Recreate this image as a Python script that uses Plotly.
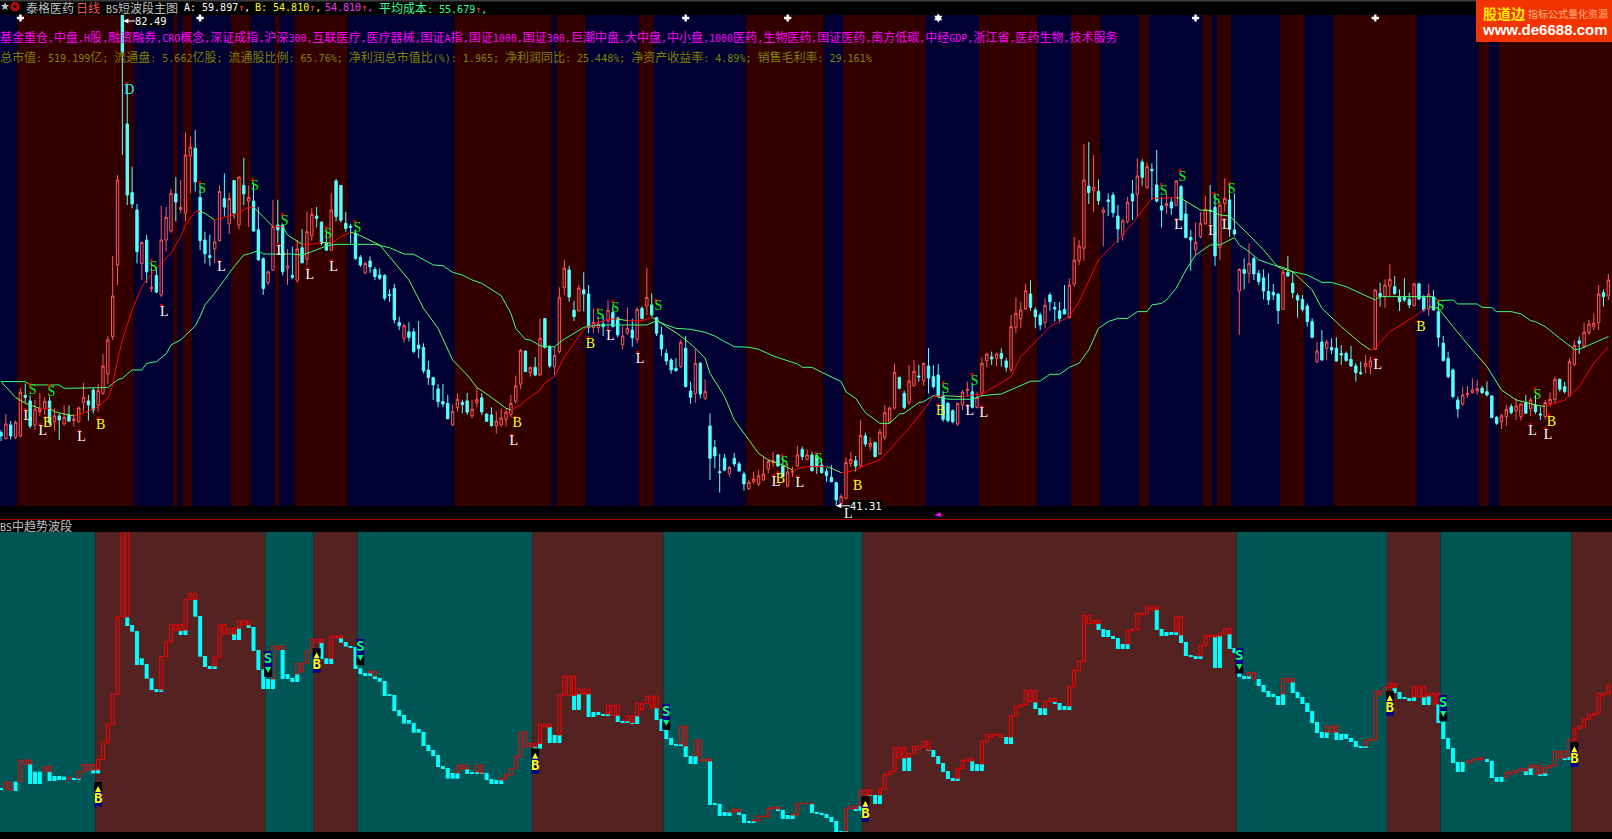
import re
import plotly.graph_objects as go

N = None
NAVY, MAROON = "#000033", "#330000"
TEAL, RUST = "#005555", "#552222"
W, H = 1612, 839

# ---------- upper panel: daily candles (price, yuan) ----------
candle_dir = ("CRCRRCCRRR" "CRCRCRRRCC" "RRRRRCCCCR" "CRCRRRCRRR" "CCCCRRCRCR"
              "CRCCCRRCCR" "CRCRRCCCRC" "CCCCCRCCCC" "CCCRCCCCCC" "CCCRRCCRRC"
              "CCRRRRRRCR" "C"
              "RCCRRRCCRC" "CRRCRCCRRC" "RCRCCCCCCR" "CCRCRCCCCR" "CCCRRRRRRC"
              "CRRRCRCCCC" "CCRRRCRCRC" "RRRRCCRRCR" "CCCCCCRRRC" "RRRCRCCRRR"
              "RCCCRCCCCR" "RR"
              "RCRCRCCCRR" "CRCRCCCRCR" "CCCRRRCCRR" "CCRCRCCCCC" "CRCCCCCCRC"
              "RCCCCCCCRR" "RCRRCCCCRC" "CRCCCCCCRR" "RRCCCCRRCR" "RCRCCRRRCC"
              "RRCRRRRCR")

body_top = [
 47.7,48.42,48.34,48.56,51.06,50.8,50.34,49.67,49.67,50.28,
 50.34,49.09,49.09,48.98,49.17,48.84,49.75,50.64,50.34,51.25,
 51.2,53.25,55.42,59.09,68.75,82.49,73.42,67.7,66.25,63.55,
 63.75,59.8,60.8,63.75,65.64,67.64,67.59,66.47,70.84,71.5,
 71.4,67.3,63.75,62.45,63.6,67.8,67.2,67.2,68.7,69,
 68.3,67.3,67,64.6,62.2,61.1,64.85,65,65,61.6,
 60.8,63,63.1,64.45,65.9,65.75,65.25,63.47,66.25,68.67,
 68.3,65.14,64.9,64.3,62.3,61.8,62,61.3,60.84,60.8,
 59.2,59.7,56.87,56.6,56.1,56.1,55,54.8,52.92,52.28,
 51.34,50.28,50.14,49.45,50.47,50.22,50.34,49.64,50.47,50.6,
 49.25,49.17,48.64,48.92,49.42,50.14,51.6,54.53,54.5,53.14,
 53.14,
 55.56,57.2,54.86,54.14,58.97,61.4,61.25,57.9,59.75,59.6,
 59.25,56.9,56.75,56.75,57.9,57.7,57.25,55.75,56.4,56.25,
 57.97,58.06,58.97,58.34,57.28,55.84,54.3,53.75,53.06,55.23,
 54.73,51.17,53.47,53.47,51.14,48.25,46.47,44.45,45.56,44.8,
 45.56,45.09,44.25,43.56,43.84,44.1,44.25,45.3,45.34,45.84,
 44.92,44.42,44.47,45.84,46.3,45.84,45.84,45.78,45,44.45,
 43.97,43.53,42.36,45.2,45.47,45.36,47.47,47.42,46.8,46.86,
 47.75,49.36,49.75,52.72,52.3,50.97,52,52.8,52.42,53.47,
 53.25,52.36,52.5,50.7,50.14,49.53,50.14,51.06,51.3,51.1,
 50.64,53.47,54.25,54,54.25,54.3,53.67,56.53,57.64,57.92,
 59.53,59.25,57.92,57.5,58.3,59.17,58.14,57.84,57.97,60,
 62.08,63.25,
 68.75,68.25,68.14,67.78,66.25,67.09,67.5,65.75,65.34,66.9,
 67.59,69.09,70.25,69.86,69.64,68.34,66.59,66.78,66.92,68.67,
 68.2,65.92,63.97,63.56,65.14,66.3,66.25,66.47,66.67,67.22,
 67.09,64.59,61.3,61.3,61.8,62.2,60.97,60.59,59.47,59.39,
 59.25,61.06,61.06,60.14,59.11,58.8,58.25,56.95,54.5,55.25,
 55.25,54.8,54.72,54.3,54.3,53.8,53.25,52.7,53.47,53.67,
 59.59,59.3,60,60.47,59.86,58.97,58.97,58.8,60.09,60.09,
 59,59.25,59,57.78,55.14,53.89,52.92,50.42,50.84,50.97,
 51.25,51.36,51.39,51.11,50.75,48.97,49.09,49.64,49.86,49.92,
 50.09,50.2,50.42,50,49.25,50.2,50.47,52.14,52.14,51.53,
 53.61,54.97,55.34,56.06,56.75,56.81,59.25,59.36,60.42]

body_bot = [
 47.42,47.2,47.42,47.31,47.42,50.64,48.25,48.34,49.45,49.72,
 48.53,48.62,48.75,48.42,48.67,48.7,48.62,50.2,50,49.59,
 50,50.98,52.59,55.7,61.67,79.4,67.5,66.75,62.78,61.8,
 61.1,59.7,59.42,59.17,63.75,64.5,66.92,66.3,65.97,70.75,
 68.6,63.7,62.6,62.3,63,63.7,66.5,65.1,66,65,
 67.6,67,64.5,62.1,59.7,60.2,61.25,64.6,61.1,61.4,
 60.64,60.4,61.85,62.15,64.1,65.55,63.47,62.9,62.9,65.7,
 65.4,64.72,64.8,62.2,61.67,61,61.5,60.7,60.56,58.9,
 59.15,57.1,56.6,55.56,55.64,54.45,54.7,52.84,52.28,51.67,
 50.28,50.09,48.86,48.34,49.78,50.03,49.4,49.09,50.2,49.42,
 48.64,48.28,48.28,48.34,48.8,49.22,50.3,51.75,52.78,52.7,
 52.5,
 52.5,54.8,53.25,53.2,54.45,59.8,59,57.36,57.84,59.25,
 56.47,56.47,56.47,56.53,57,56.53,55.84,55,56,55.6,
 55.47,57.2,58.25,57.5,55.97,54.67,53.67,52.92,52.86,53.2,
 51.53,50.64,50.97,50.92,50.56,45.56,45.75,44.36,44.58,44.3,
 45.09,44.5,43.42,43.03,43.6,43.4,43.75,44.67,45.2,44.92,
 44.03,43.25,44.4,44.92,45.7,45.47,44.53,44.86,44.36,44.1,
 43.6,42.09,41.8,42.22,45.14,44.92,44.92,46.75,46.53,45.7,
 45.92,47.3,48.53,49.75,51.39,49.8,50.2,51.6,52.34,52,
 52.25,51.53,50.7,48.8,48.7,48.6,48.42,50,51.2,49.8,
 49.8,50.97,53.7,53.84,53.89,53.89,53.14,52.92,56.47,57.2,
 58,58.14,57.36,56.67,56.86,58.6,58,57.2,57.58,57.28,
 60.08,62.03,
 63.06,67.7,67.86,67.03,66.03,66.95,66.03,64.67,64.17,65.28,
 67,67.56,68.97,68.14,69.53,67,66.25,66.59,66.42,66.64,
 65.42,63.95,63.75,62.92,64.03,65.14,66.17,62.42,63.14,66.8,
 64.64,64.25,59.5,60.97,60.97,60.92,60.28,59.5,58.75,59.17,
 57.86,57.97,60.75,59.36,58.75,57.97,56.95,55.64,53.59,53.75,
 54.72,54.59,53.67,54.17,53.7,53.25,52.7,52.62,53.2,53.2,
 54.64,59.03,59.03,59.92,59.3,58.61,58.75,58.34,58.28,58.84,
 57.92,58,57.92,55.64,53.7,52.36,50.7,49.67,50.09,50.84,
 51.03,51.17,51.03,50.84,48.95,48.47,48.61,49.03,49.36,49.53,
 49.03,49.31,49.7,49.45,49.17,49.03,50.14,50.47,51.31,51.11,
 50.78,53.39,55.14,54.86,56.03,56.53,56.86,59.03,59.09]

high = [
 47.92,49.25,48.67,48.7,51.4,51.8,50.8,50.42,51,50.64,
 50.7,49.75,49.3,50,49.98,49.25,49.86,51.84,50.84,51.4,
 51.75,54.25,55.75,62.42,69.17,82.49,76.8,69.86,66.75,63.6,
 64.2,61.8,61.5,66.6,66.5,68,69,68.75,72.7,72.36,
 72.9,68.2,64.45,64.2,65.4,68.3,69.3,67.7,68.75,69,
 70.6,68.3,68.5,66.5,62.3,61.2,67.1,67.1,65,63,
 63.2,63.75,64.67,66.1,66.4,66.5,65.25,64.6,67.64,68.84,
 68.3,66.1,65.1,64.6,62.5,61.95,62.4,61.5,61.4,60.9,
 59.64,60.1,57.36,56.8,56.9,56.4,57,55.14,53.67,52.36,
 51.75,51.75,50.84,50,50.97,50.42,51,50.42,51.47,50.97,
 49.3,49.8,49.45,49.72,49.64,50.84,52.45,54.67,54.5,53.14,
 54,
 57.2,57.2,55,54.86,59.8,62.1,61.6,58.67,60,61.06,
 60,58.06,57.4,57.5,58.75,58.2,57.36,56.53,58.14,57.2,
 58.14,58.2,61.4,59.3,57.36,56.53,54.64,53.9,53.9,55.47,
 55.75,51.95,54.64,53.6,52.14,49.3,47.09,45.92,45.92,44.92,
 46,45.28,44.45,43.75,44.45,44.58,45.7,45.47,46.1,45.92,
 45.7,45.14,44.86,46.6,46.53,46.3,46.1,46,45.56,44.72,
 45,43.6,42.6,45.64,46.1,45.75,48.75,47.7,47.3,46.95,
 48,50,49.86,53.47,52.36,51.2,53.34,53.75,53.34,53.53,
 54.75,53.34,53.4,51.1,50.28,49.64,50.2,51.25,51.95,51.8,
 51.1,53.97,54.36,54.45,54.36,54.72,53.9,57.5,58.97,58.6,
 60.1,60.4,58.14,57.7,58.9,59.36,58.6,58.6,60,60.56,
 64,63.75,
 71.75,71.92,70.84,68.8,66.47,67.64,67.73,66.67,65.56,67.36,
 68.75,70.56,70.47,70.2,70.14,71.25,67.36,67.59,67.22,68.75,
 68.34,66.95,64.59,65.22,66.1,67.42,68.34,67.64,67,68.9,
 68.53,67.64,61.39,62.22,63.47,62.36,61.25,61.3,60.97,60.09,
 59.3,61.25,62.42,61.1,59.3,59.17,58.47,57.22,55.28,56.25,
 55.42,55.56,55.64,55,54.45,54.92,53.47,53.62,54.17,54.03,
 59.64,60.2,60.47,61.72,60.75,59.64,60.56,59.36,60.2,60.2,
 59.17,60.06,59.59,58.6,55.75,54.45,53.06,50.7,51.53,51.59,
 52.22,52.09,51.59,51.95,50.84,49.09,49.25,50,50.09,50.55,
 50.14,50.84,50.61,50.84,49.86,50.42,51.03,52.36,52.22,51.95,
 53.89,55.36,55.7,56.86,57.09,57.64,60,59.64,60.92]

low = [
 47,47.14,47.14,47.14,47.31,50.2,48.06,47.92,49.09,49.17,
 48.34,47.86,47.09,48.28,48.56,48.2,48.53,49.45,48.7,49.3,
 49.45,50.84,51.75,55.42,60,70.83,66.66,66.4,61.8,60.4,
 60.2,59.4,59.3,59,62.8,64.36,65.3,66,65.3,67.64,
 67.8,62.9,61.8,61.6,61.8,63.6,65.7,64.25,65.55,64.65,
 66.65,64.85,64.45,62,59.17,60,61.2,63.25,60.8,60,
 60.5,60.2,61.8,61.67,63.7,64.8,63.3,62.87,62.87,65.3,
 65.2,64.45,63.47,62.1,61.5,60.9,61,60.4,60.4,58.7,
 58.6,56.8,56.25,55.2,55.3,54.3,53.9,52.64,51.67,50.42,
 49.8,49.8,48.8,48.28,49.45,49.3,49.17,48.9,49.8,49.17,
 48.6,48.2,47.6,48.2,48.2,48.97,50.14,51.34,52.78,52.36,
 52.42,
 52.4,54.7,53.06,52.5,54.3,59.17,58.6,57,57.8,57.8,
 56,56,56,55.75,56.25,56.47,55.64,54.64,55.84,54.86,
 55.14,57.14,57.5,57.36,55.75,54.1,53.34,52.6,52.78,53.06,
 51.47,50.1,50.2,50.56,50.42,43.75,44.72,42.7,44.53,44.03,
 44.86,44.45,42.86,42.92,43.42,43.25,43.7,44.3,44.86,44.86,
 44,43.14,44,44.86,45.42,45.42,44.45,44.25,44.3,43.6,
 43.56,41.31,41.67,42.14,44.86,44.45,44.86,46.53,46.2,45.64,
 45.84,47.09,48.47,49.64,51.3,49.64,50,51.53,51.95,51.6,
 50.97,51.39,50.56,48.6,48.53,48.47,48.25,49.58,50.7,49.7,
 49.7,50.7,53.14,53.34,53.25,53.2,52.78,52.78,56,56.4,
 57.92,57.86,56.4,56.25,56.4,57.86,56.95,56.86,57.58,57.2,
 59.83,61.67,
 62.03,66.75,66.1,66.67,63.2,65.75,65.64,63.53,63.7,65.14,
 65.42,65.64,68.28,67.97,67.09,66.86,64.78,65.9,65.84,66.59,
 65.36,63.9,61.2,62.47,63.9,65,65,61.59,62.1,66.1,
 64,64.09,55.84,59.64,60.14,60.42,60,58.8,58.34,58.75,
 56.75,57.92,60.7,58.9,57.28,57.78,56.53,55.56,53.53,53.7,
 53.75,54.25,53.62,53.34,53.62,53.2,51.95,52.5,52.64,52.56,
 54.59,58.2,58.11,59.09,59.17,57.84,58.61,58.06,58.2,58.75,
 57.78,57.42,57.86,54.86,53.62,52.22,50.56,48.95,49.92,50.56,
 50.97,50.84,50.92,50.7,48.89,48.34,48,48.25,49.22,48.75,
 48.7,49.25,49.09,49.25,48.75,48.81,49.86,50.14,51.11,50.97,
 50.7,53.25,54.25,54.72,55.84,56.25,56.25,58.2,58.75]

# fast average (bar index, price)
fast_idx = [0,3,5,8,10,11,13,15,18,20,22,23,24,25,27,29,30,32,35,37,38,40,41,42,44,46,48,51,52,54,56,58,59,62,64,66,68,70,72,73,78,80,84,
            87,90,93,96,98,101,104,105,107,109,111,112,114,116,118,120,122,125,127,129,132,134,135,137,139,141,143,145,146,149,151,154,156,158,161,163,166,170,171,173,175,178,181,183,185,187,190,192,194,198,202,205,208,210,213,216,220,222,
            226,229,231,234,237,242,243,247,249,251,253,257,260,263,266,270,272,276,280,282,283,286,291,294,296,299,303,306,309,312,316,318,322,325,328,331]
fast_val = [51.95,50.64,50.14,49.72,49.72,49.45,49.25,49.09,49.45,49.86,50.56,51.67,53.75,55.42,57.92,59.86,60.42,61.39,62.64,64.03,65,66.11,66.14,65.97,65.42,65.64,65.83,66.47,66.47,65.7,64.86,64.86,64.17,63.39,63.39,63.56,63.47,64.03,64.39,64.31,63.33,62.36,60.42,
            58.06,56.39,53.75,52.5,51.47,50.64,49.72,49.59,50,50.7,51.25,51.86,52.36,54.03,55.14,56.31,56.75,57.14,57.17,57.03,57.03,57.31,57.09,56.53,56.03,55.42,54.73,53.89,52.64,50.7,48.75,47.09,45.97,45.42,45,44.58,44.86,44.86,44.73,44.36,44.45,45,45.42,46.25,47.23,48.06,49.59,50.7,50.78,50.7,50.92,51.61,52.36,54.03,55.28,56.53,57.36,58.61,
            62.09,63.34,64.17,65.64,67.22,67.28,67.22,66.25,66.2,65.84,65.75,64.17,62.92,61.47,61.11,59.59,58.06,56.53,55.14,54.59,54.73,56.11,57.36,58.2,58.06,56.53,54.59,53.2,51.25,50.42,50,49.86,50.42,51.53,53.47,54.86]

# slow average (bar index, price)
slow_idx = [0,5,6,12,13,21,22,24,25,27,29,30,32,34,35,37,39,40,41,42,44,46,48,50,51,53,54,60,62,64,66,67,69,77,80,83,85,89,91,93,95,97,99,103,105,106,108,109,111,
            112,114,116,118,120,123,133,135,137,139,142,145,147,149,151,154,156,159,161,164,165,167,169,173,174,176,178,181,183,185,186,189,190,192,195,200,202,206,209,212,214,216,218,220,222,
            224,226,228,230,232,234,236,237,239,240,242,244,246,249,251,254,255,257,259,262,264,266,269,272,274,277,280,283,284,295,296,299,300,304,305,307,308,311,313,315,316,318,321,324,325,328,331]
slow_val = [51.95,51.95,51.67,51.67,51.39,51.39,51.45,52.09,52.23,52.92,52.92,53.47,53.61,54.25,55,55.42,56.25,56.59,57.36,58.34,59.31,60.42,61.53,62.5,62.58,62.86,62.58,62.58,62.5,62.78,63.06,63.25,63.39,63.39,63.11,62.58,62.56,61.67,61.61,61.06,60.83,60.42,60.14,59.11,57.64,56.39,55.47,55.42,54.95,
            54.86,54.86,55.5,55.97,56.47,56.67,56.67,57.03,56.67,56.39,56.31,56.06,55.75,55.28,54.86,54.81,54.64,54.09,53.84,53.42,53.14,53.14,52.73,51.95,51.11,50.56,49.36,48.47,48.47,49.25,49.31,50.2,50.28,50.78,50.48,50.48,50.78,50.92,51.45,51.98,52,52.56,52.56,53.14,53.48,
            54.59,56.39,56.95,57.22,57.22,57.78,57.78,58.34,58.47,58.75,59.73,61.25,62.5,63.34,63.34,63.95,63.34,62.78,62.09,61.67,61.47,61.11,60.84,60.22,60.22,59.86,59.31,58.75,59.03,59.03,58.7,58.75,58.42,58.42,58.14,58.11,57.78,57.78,57.59,57.03,56.95,56.53,55.56,54.64,54.64,55.14,55.7]

# buy / sell / low labels (bar index, price)
s_idx = [6.5,10.4,31.4,41.4,52.3,58.4,67.4,73.4,123.4,126.5,135.4,161.3,168.3,194.5,200.5,239.4,243.3,250.3,253.4,296.4,316.4]
s_val = [51.17,51.08,61.5,68,68.25,65.33,64.25,64.75,57.42,58.08,58.17,45.25,45.42,51.33,52,67.83,69,67.08,67.92,58.17,50.83]
l_idx = [5.5,8.6,16.6,33.6,45.4,57.6,63.6,68.5,105.6,125.5,131.6,159.6,164.5,199.5,202.4,242.5,249.5,252.3,283.5,315.4,318.6]
l_val = [49.08,47.83,47.33,57.75,61.42,62.83,60.83,61.5,46.92,55.75,53.83,43.58,43.5,49.42,49.33,64.92,64.42,64.92,53.33,47.83,47.5]
low_mark_idx = 174.6
b_idx = [9.6,20.5,106.3,121.4,160.5,176.4,193.5,292.4,319.3]
b_val = [48.42,48.33,48.42,55.08,43.83,43.17,49.5,56.42,48.58]
d_idx = [26.4]
d_val = [76.25]
plus_idx = [4,41,141,162,246,283]
star_idx = [193]

# background regime: first bar of each new band (starts navy)
upper_band_starts = [4,28,36,37,38,40,48,52,57,58,61,72,94,114,115,121,132,135,154,170,174,191,202,214,221,227,235,237,248,250,251,254,264,269,275,292,305,307,309]
# background regime of the lower panel (starts teal)
lower_band_starts = [20,55,65,74,110,137,178,255,286,297,324]

# ---------- lower panel: trend-wave indicator ----------
up_hi = [N,149,149,N,216,216,216,N,N,196, 196,N,N,N,164,N,181,203,203,203,
 218,269,323,413,646,950,950,N,N,N, N,N,N,526,571,623,623,623,698,716,
 716,N,N,N,524,623,623,611,611,634, 634,634,N,N,N,N,558,558,558,N,
 N,506,506,542,578,578,578,N,588,588, 588,N,N,N,N,N,482,482,N,N,
 N,N,N,N,N,N,N,N,N,N, N,N,N,N,200,200,200,N,200,200,
 N,N,N,161,173,191,228,300,300,266, 266,324,323,323,N,410,468,468,468,428,
 428,428,N,N,N,380,380,380,N,348, 348,386,386,408,408,408,N,N,N,N,
 318,318,N,276,276,219,219,N,N,N, 62,69,69,N,N,36,48,48,72,74,
 74,N,N,54,86,86,86,86,N,N, N,N,N,N,72,78,78,126,126,126,
 N,131,174,182,254,254,254,236,257,257, 272,272,N,N,N,N,N,191,215,221,
 221,N,272,293,293,293,293,N,350,377, 383,425,425,425,N,392,401,401,N,N,
 437,486,513,650,650,635,635,N,N,N, N,N,605,608,656,656,677,677,677,N,
 N,N,647,647,N,N,N,560,590,590, 590,596,611,611,N,N,N,479,479,N,
 N,N,N,N,461,461,461,N,N,N, N,N,N,318,318,318,N,N,N,N,
 N,275,279,422,422,434,446,446,N,N, N,437,437,437,416,416,416,N,N,N,
 N,N,212,218,222,222,N,N,N,N, 179,180,185,191,191,200,200,200,194,200,
 242,242,242,278,311,318,338,353,356,416, 416,443]
up_lo = [N,131,126,N,151,204,204,N,N,181, 181,N,N,N,158,N,161,181,186,186,
 186,218,269,323,413,646,646,N,N,N, N,N,N,426,526,571,604,604,606,698,
 698,N,N,N,498,524,594,594,594,611, 621,621,N,N,N,N,459,548,548,N,
 N,474,481,506,542,568,568,N,521,583, 582,N,N,N,N,N,477,468,N,N,
 N,N,N,N,N,N,N,N,N,N, N,N,N,N,177,189,189,N,180,177,
 N,N,N,156,159,171,191,226,256,256, 256,266,315,315,N,291,410,410,410,414,
 414,414,N,N,N,354,350,350,N,333, 330,348,366,386,373,372,N,N,N,N,
 264,258,N,228,213,213,213,N,N,N, 60,60,60,N,N,33,33,45,45,69,
 69,N,N,51,51,85,85,85,N,N, N,N,N,N,3,70,70,78,111,111,
 N,111,129,172,182,222,222,224,235,247, 255,246,N,N,N,N,N,161,191,213,
 213,N,204,270,284,291,283,N,285,349, 376,382,391,390,N,372,391,391,N,N,
 378,436,484,511,625,625,625,N,N,N, N,N,564,604,607,652,655,667,667,N,
 N,N,600,591,N,N,N,528,559,586, 585,588,595,594,N,N,N,468,459,N,
 N,N,N,N,414,450,450,N,N,N, N,N,N,300,300,300,N,N,N,N,
 N,258,274,277,411,422,433,433,N,N, N,405,405,405,408,384,384,N,N,N,
 N,N,207,210,216,216,N,N,N,N, 164,174,178,183,183,192,174,174,177,192,
 199,222,222,226,277,310,316,337,351,355, 408,415]
dn_hi = [132,N,N,151,N,N,204,181,181,N, 181,168,168,166,N,162,162,N,N,186,
 188,N,N,N,N,N,644,621,603,521, 504,461,429,429,N,N,N,604,606,N,
 696,648,528,498,498,N,N,N,594,611, N,621,615,546,488,459,459,N,546,474,
 462,474,N,N,N,N,568,521,521,N, 582,570,558,555,491,477,477,468,462,453,
 413,411,366,351,336,327,309,300,261,246, 231,198,192,177,177,N,189,180,180,180,
 177,159,156,156,N,N,N,N,N,N, 256,266,N,315,291,291,N,N,410,414,
 N,414,360,360,354,354,N,350,333,333, 327,348,N,N,N,372,339,306,282,264,
 264,258,228,228,N,N,213,86,84,60, 60,N,60,54,33,33,N,N,N,N,
 69,66,51,51,N,N,N,84,60,57, 54,45,33,3,3,N,69,78,N,111,
 111,111,N,N,N,N,222,224,N,N, N,246,246,228,207,183,162,161,N,N,
 213,204,204,N,N,N,N,285,285,N, N,N,N,390,372,372,N,390,387,378,
 378,N,N,N,N,N,625,609,606,588, 582,564,564,N,N,N,N,N,666,609,
 600,600,600,591,570,531,528,528,N,N, 585,588,N,594,552,540,468,468,N,459,
 441,423,414,408,414,N,450,420,405,387, 363,330,300,300,N,300,294,294,282,273,
 258,258,N,N,N,N,N,432,420,405, 402,405,N,405,408,N,384,330,282,252,
 210,210,N,N,N,N,219,213,165,165, N,N,N,N,183,192,N,174,177,N,
 N,N,222,225,N,N,N,N,N,N, N,N]
dn_lo = [126,N,N,123,N,N,144,144,144,N, 153,153,156,156,N,156,156,N,N,176,
 176,N,N,N,N,N,618,601,501,501, 460,426,420,420,N,N,N,591,591,N,
 646,526,495,489,489,N,N,N,576,576, N,612,543,486,429,429,429,N,459,459,
 450,450,N,N,N,N,519,504,504,N, 568,556,552,489,474,468,468,459,451,408,
 408,363,348,325,325,298,298,258,243,228, 195,189,160,160,160,N,174,174,174,174,
 156,144,144,144,N,N,N,N,N,N, 250,250,N,267,267,267,N,N,366,366,
 N,345,345,351,348,348,N,330,327,327, 324,324,N,N,N,336,303,279,261,258,
 258,225,204,204,N,N,81,81,48,48, 48,N,51,27,27,27,N,N,N,N,
 63,39,39,39,N,N,N,57,54,51, 42,30,-3,-3,-3,N,63,63,N,108,
 84,84,N,N,N,N,183,183,N,N, N,243,225,204,180,159,153,153,N,N,
 183,183,183,N,N,N,N,264,264,N, N,N,N,369,351,351,N,384,366,366,
 366,N,N,N,N,N,606,585,585,579, 549,549,549,N,N,N,N,N,606,588,
 588,591,591,567,528,525,519,519,N,N, 492,492,N,549,537,465,459,459,N,438,
 420,405,405,381,381,N,417,402,384,360, 327,297,282,282,N,276,276,279,270,255,
 252,252,N,N,N,N,N,417,399,399, 393,393,N,381,381,N,327,279,249,207,
 180,180,N,N,N,N,210,162,150,150, N,N,N,N,171,171,N,168,168,N,
 N,N,216,216,N,N,N,N,N,N, N,N]

tag_kind = "BSBSBSBSBSB"
tag_idx = [20,55,65,74,110,137,178,255,286,297,324]
tag_lo = [76,466,478,501,175,306,31,476,349,334,195]
tag_hi = [150,543,551,579,250,384,106,552,423,411,269]

# ---------- texts ----------
title_name = "泰格医药"
title_period = "日线"
title_main = "BS短波段主图"
val_a = "A: 59.897↑,"
val_b = "B: 54.810↑,"
val_c = "54.810↑,"
val_cost = "平均成本: 55.679↑,"
concepts = "基金重仓,中盘,H股,融资融券,CRO概念,深证成指,沪深300,互联医疗,医疗器械,国证A指,国证1000,国证300,巨潮中盘,大中盘,中小盘,1000医药,生物医药,国证医药,南方低碳,中经GDP,浙江省,医药生物,技术服务"
finance = "总市值: 519.199亿; 流通盘: 5.662亿股; 流通股比例: 65.76%; 净利润总市值比(%): 1.965; 净利润同比: 25.448%; 净资产收益率: 4.89%; 销售毛利率: 29.161%"
lower_title = "BS中趋势波段"

n = len(candle_dir)
for name, lst in [("top", body_top), ("bot", body_bot), ("high", high), ("low", low),
                  ("up_hi", up_hi), ("up_lo", up_lo), ("dn_hi", dn_hi), ("dn_lo", dn_lo)]:
    if len(lst) != n:
        print("LENGTH", name, len(lst), n)
m = min(n, len(body_top), len(body_bot), len(high), len(low))
idx = list(range(m))
opens = [body_bot[i] if candle_dir[i] == "R" else body_top[i] for i in idx]
closes = [body_top[i] if candle_dir[i] == "R" else body_bot[i] for i in idx]

X_RANGE = [-0.206, 331.75]
CJK = "Noto Sans CJK SC"
MONO = "DejaVu Sans Mono"
LETTER = "Liberation Serif"


def mix(s):
    def rep(mt):
        return "<span style=\"font-family:'%s';font-size:10px\">%s</span>" % (MONO, mt.group(0))
    out = re.sub(r"[\x20-\x7e]+", rep, s)
    out = out.replace("↑", "<span style=\"font-family:'%s';font-size:10px;color:#ff5050\">↑</span>" % MONO)
    return out


fig = go.Figure()

fig.add_trace(go.Candlestick(
    x=idx, open=opens, high=high[:m], low=low[:m], close=closes,
    increasing=dict(line=dict(color="#ff5555", width=1), fillcolor="rgba(0,0,0,0)"),
    decreasing=dict(line=dict(color="#55ffff", width=1), fillcolor="#55ffff"),
    whiskerwidth=0, hoverinfo="skip", xaxis="x", yaxis="y"))

# fast average: red while rising, green while falling
rx, ry, gx, gy = [], [], [], []
for a in range(len(fast_idx) - 1):
    tx, ty = (rx, ry) if fast_val[a + 1] >= fast_val[a] else (gx, gy)
    tx += [fast_idx[a], fast_idx[a + 1], None]
    ty += [fast_val[a], fast_val[a + 1], None]
fig.add_trace(go.Scatter(x=slow_idx, y=slow_val, mode="lines", line=dict(color="#3cff78", width=1), hoverinfo="skip"))
fig.add_trace(go.Scatter(x=gx, y=gy, mode="lines", line=dict(color="#66ff55", width=1), hoverinfo="skip"))
fig.add_trace(go.Scatter(x=rx, y=ry, mode="lines", line=dict(color="#ff0000", width=1), hoverinfo="skip"))

# signal labels with their small dots
for xs, ys, letter, col in [(s_idx, s_val, "S", "#00ff00"), (l_idx, l_val, "L", "#ffffff"),
                            (b_idx, b_val, "B", "#ffff00"), (d_idx, d_val, "D", "#00ffff")]:
    fig.add_trace(go.Scatter(x=[v - 0.5 for v in xs], y=[v + 0.55 for v in ys], mode="markers",
                             marker=dict(symbol="square", size=3, color="#c00000"), hoverinfo="skip", cliponaxis=False))
    fig.add_trace(go.Scatter(x=xs, y=ys, mode="text", text=[letter] * len(xs), textposition="middle center",
                             textfont=dict(family=LETTER, size=14, color=col), hoverinfo="skip", cliponaxis=False))

# white plus marks at top
fig.add_trace(go.Scatter(x=plus_idx, y=[82.25] * len(plus_idx), mode="markers", cliponaxis=False,
                         marker=dict(symbol="cross", size=6, color="#ffffff", line=dict(width=0)), hoverinfo="skip"))
fig.add_trace(go.Scatter(x=star_idx, y=[82.25] * len(star_idx), mode="markers", cliponaxis=False,
                         marker=dict(symbol="hexagram", size=7, color="#ffffff", line=dict(width=0)), hoverinfo="skip"))

# lower panel bars
dn_x = [i for i in range(len(dn_hi)) if dn_hi[i] is not None]
fig.add_trace(go.Bar(x=dn_x, y=[dn_hi[i] - dn_lo[i] for i in dn_x], base=[dn_lo[i] for i in dn_x], width=0.82,
                     marker=dict(color="#00ffff", line=dict(width=0)), xaxis="x2", yaxis="y2", hoverinfo="skip"))
up_x = [i for i in range(len(up_hi)) if up_hi[i] is not None]
fig.add_trace(go.Bar(x=up_x, y=[up_hi[i] - up_lo[i] for i in up_x], base=[up_lo[i] for i in up_x], width=0.62,
                     marker=dict(color="rgba(0,0,0,0)", line=dict(color="#ff0000", width=1)),
                     xaxis="x2", yaxis="y2", hoverinfo="skip"))

# BS tags in lower panel
fig.add_trace(go.Bar(x=tag_idx, y=[h - l for h, l in zip(tag_hi, tag_lo)], base=tag_lo, width=1.6,
                     marker=dict(color="#000080", line=dict(width=0)), xaxis="x2", yaxis="y2", hoverinfo="skip"))
arr_y, arr_sym, arr_col, let_y, let_col = [], [], [], [], []
for k, i0, lo_, hi_ in zip(tag_kind, tag_idx, tag_lo, tag_hi):
    if k == "B":
        arr_y.append(hi_ - 12); arr_sym.append("arrow-up"); arr_col.append("#ffff00")
        let_y.append(hi_ - 52); let_col.append("#ffff00")
    else:
        arr_y.append(hi_ - 66); arr_sym.append("arrow-down"); arr_col.append("#00ff66")
        let_y.append(hi_ - 26); let_col.append("#00ff66")
fig.add_trace(go.Bar(x=tag_idx, y=[22] * len(tag_idx),
                     base=[(h - 22) if k == "B" else l for k, h, l in zip(tag_kind, tag_hi, tag_lo)], width=1.6,
                     marker=dict(color="#000000", line=dict(width=0)), xaxis="x2", yaxis="y2", hoverinfo="skip"))
fig.add_trace(go.Scatter(x=tag_idx, y=arr_y, mode="markers", xaxis="x2", yaxis="y2", hoverinfo="skip",
                         marker=dict(symbol=arr_sym, size=6, color=arr_col, line=dict(width=0))))
fig.add_trace(go.Scatter(x=tag_idx, y=let_y, mode="text", text=["<b>%s</b>" % c for c in tag_kind],
                         textposition="middle center", xaxis="x2", yaxis="y2", hoverinfo="skip",
                         textfont=dict(family="DejaVu Sans Mono", size=14, color=let_col)))

# backgrounds
shapes = []
edges = [X_RANGE[0]] + [s - 0.6 for s in upper_band_starts] + [X_RANGE[1]]
for a in range(len(edges) - 1):
    shapes.append(dict(type="rect", xref="x", yref="y domain", x0=edges[a], x1=edges[a + 1], y0=0, y1=1,
                       fillcolor=NAVY if a % 2 == 0 else MAROON, line=dict(width=0), layer="below"))
edges2 = [X_RANGE[0]] + [s - 0.6 for s in lower_band_starts] + [X_RANGE[1]]
for a in range(len(edges2) - 1):
    shapes.append(dict(type="rect", xref="x2", yref="y2 domain", x0=edges2[a], x1=edges2[a + 1], y0=0, y1=1,
                       fillcolor=TEAL if a % 2 == 0 else RUST, line=dict(width=0), layer="below"))
# separator, window edge, logo
shapes.append(dict(type="line", xref="paper", yref="paper", x0=0, x1=1, y0=1 - 519.5 / H, y1=1 - 519.5 / H,
                   line=dict(color="#a00000", width=1)))
shapes.append(dict(type="rect", xref="paper", yref="paper", x0=0, x1=1, y0=1 - 1.5 / H, y1=1,
                   fillcolor="#3c3c40", line=dict(width=0)))
shapes.append(dict(type="rect", xref="paper", yref="paper", x0=1476 / W, x1=1, y0=1 - 42 / H, y1=1,
                   fillcolor="#f23400", line=dict(width=0)))


def label(px, py, text, color, size=12, family=CJK, bold=False):
    if bold:
        text = "<b>%s</b>" % text
    return dict(xref="paper", yref="paper", x=px / W, y=1 - py / H, text=text, showarrow=False,
                borderpad=0, borderwidth=0,
                xanchor="left", yanchor="middle", align="left", font=dict(family=family, size=size, color=color))


ann = [
    dict(xref="x", yref="y", x=25.2, y=82.0, text="82.49", showarrow=True, ax=28, ay=0, axref="pixel", ayref="pixel",
         arrowhead=2, arrowsize=1, arrowwidth=1, arrowcolor="#ffffff", bgcolor="#000000", standoff=0,
         borderpad=0, borderwidth=0, font=dict(family=MONO, size=10.5, color="#ffffff")),
    dict(xref="x", yref="y", x=172, y=41.6, text="41.31", showarrow=True, ax=30, ay=0, axref="pixel", ayref="pixel",
         arrowhead=2, arrowsize=1, arrowwidth=1, arrowcolor="#ffffff", bgcolor="#000000", standoff=0,
         borderpad=0, borderwidth=0, font=dict(family=MONO, size=10.5, color="#ffffff")),
    dict(xref="x", yref="y", x=low_mark_idx, y=41.6, yshift=-8, text="L", showarrow=False, borderpad=0, borderwidth=0,
         font=dict(family=LETTER, size=14, color="#ffffff")),
    dict(xref="x", yref="paper", x=192.8, y=1 - 514 / H, yanchor="middle", text="◄", showarrow=False,
         borderpad=0, borderwidth=0, font=dict(family="DejaVu Sans", size=9, color="#ff00ff")),
    label(0, 7, "★", "#c8c8c8", 11, "DejaVu Sans"),
    label(10, 7, "❂", "#ff1010", 12, "DejaVu Sans"),
    label(26, 7.5, title_name, "#c0c0c0"),
    label(76, 7.5, title_period, "#ff5050"),
    label(106, 7.5, mix(title_main), "#c0c0c0"),
    label(184, 7.5, mix(val_a), "#ffffff"),
    label(255, 7.5, mix(val_b), "#ffff00"),
    label(325, 7.5, mix(val_c), "#ff33ff"),
    label(379, 7.5, mix(val_cost), "#33ff99"),
    label(0, 36.5, mix(concepts), "#ff00ff"),
    label(0, 56.5, mix(finance), "#808000"),
    label(0, 525.5, mix(lower_title), "#c0c0c0"),
    label(1483, 13, "股道边", "#ffee00", 14, CJK, True),
    label(1528, 14, "指标公式量化资源", "#ffb080", 10),
    label(1482, 30, "www.de6688.com", "#ffffff", 15, "Liberation Sans", True),
]

hidden = dict(visible=False, showgrid=False, zeroline=False, fixedrange=True)
fig.update_layout(
    width=W, height=839, autosize=False,
    margin=dict(l=0, r=0, t=0, b=0, pad=0),
    paper_bgcolor="#000000", plot_bgcolor="#000000",
    showlegend=False, hovermode=False, barmode="overlay",
    xaxis=dict(domain=[0, 1], range=X_RANGE, anchor="y", rangeslider=dict(visible=False), **hidden),
    xaxis2=dict(domain=[0, 1], range=X_RANGE, anchor="y2", **hidden),
    yaxis=dict(domain=[1 - 506 / H, 1 - 15 / H], range=[83.75 - 506 / 12, 83.75 - 15 / 12], anchor="x", **hidden),
    yaxis2=dict(domain=[1 - 832 / H, 1 - 532 / H], range=[0, 900], anchor="x2", **hidden),
    shapes=shapes, annotations=ann,
)

fig.write_html("out.html", config={"displayModeBar": False},
               post_script="document.body.style.margin='0';document.body.style.background='#000';document.body.style.overflow='hidden';")
